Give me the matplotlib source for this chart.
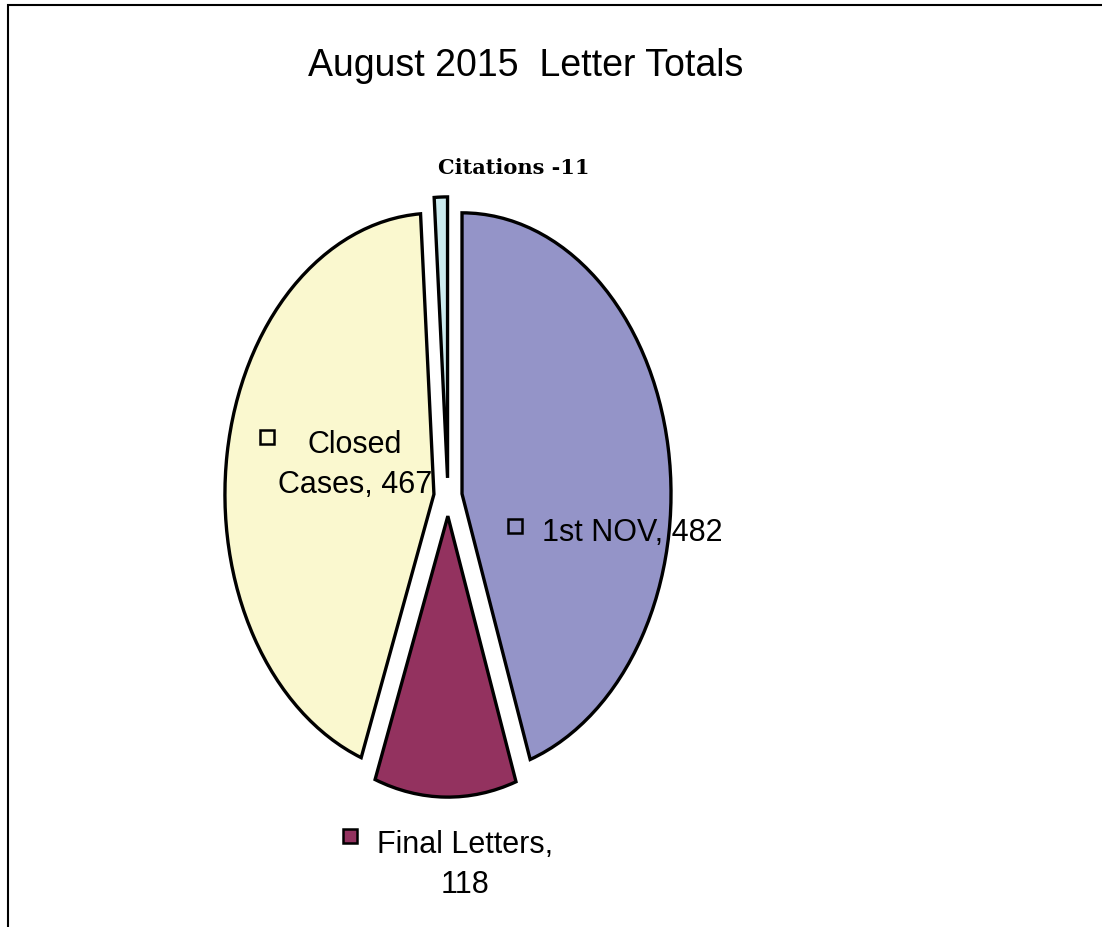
import matplotlib.pyplot as plt
from matplotlib.patches import Rectangle

# data
labels = ['1st NOV', 'Final Letters', 'Closed Cases', 'Citations']
values = [482, 118, 467, 11]
colors = ['#9494C8', '#93325F', '#FAF8CF', '#CCEBEF']

NARROW = ['Liberation Sans Narrow', 'Liberation Sans', 'DejaVu Sans']

fig = plt.figure(figsize=(11.02, 9.27), dpi=100)

# frame (top and left edges visible)
fig.add_artist(Rectangle((8 / 1102, -0.1), 1.2, 1 - 5 / 927 + 0.1,
                         transform=fig.transFigure, fill=False,
                         edgecolor='black', linewidth=1.5))

fig.text(526 / 1102, 1 - 66 / 927, 'August 2015  Letter Totals',
         ha='center', va='center', fontsize=27, family=NARROW)

# elliptical pie: rx ~209 px, ry ~281 px, centre ~(448, 497)
rx, ry, cx, cy = 209, 281, 448, 497
lim = 1.25
aw, ah = 2 * lim * rx, 2 * lim * ry
ax = fig.add_axes([(cx - aw / 2) / 1102, (927 - cy - ah / 2) / 927,
                   aw / 1102, ah / 927])
ax.pie(values, colors=colors, startangle=90, counterclock=False,
       explode=[0.068] * 4,
       wedgeprops=dict(edgecolor='black', linewidth=2.4))
ax.set_aspect('auto')
ax.set_xlim(-lim, lim)
ax.set_ylim(-lim, lim)
ax.axis('off')


def px(x, y):
    return x / 1102, 1 - y / 927


def marker(x, y, color):
    fig.add_artist(Rectangle(px(x - 7, y + 7), 14 / 1102, 14 / 927,
                             transform=fig.transFigure, facecolor=color,
                             edgecolor='black', linewidth=1.8, zorder=5))


marker(515, 526, colors[0])
fig.text(*px(632, 533), f'{labels[0]}, {values[0]}', ha='center', va='center',
         fontsize=22, family=NARROW)

marker(267, 437, colors[2])
fig.text(*px(355, 465), f'Closed\nCases, {values[2]}', ha='center', va='center',
         fontsize=22, family=NARROW, linespacing=1.4)

marker(350, 836, colors[1])
fig.text(*px(465, 865), f'{labels[1]},\n{values[1]}', ha='center', va='center',
         fontsize=22, family=NARROW, linespacing=1.4)

fig.text(*px(514, 168), f'{labels[3]} -{values[3]}', ha='center', va='center',
         fontsize=15, fontweight='bold', family=['DejaVu Serif'])

fig.savefig('out.png', dpi=100)
